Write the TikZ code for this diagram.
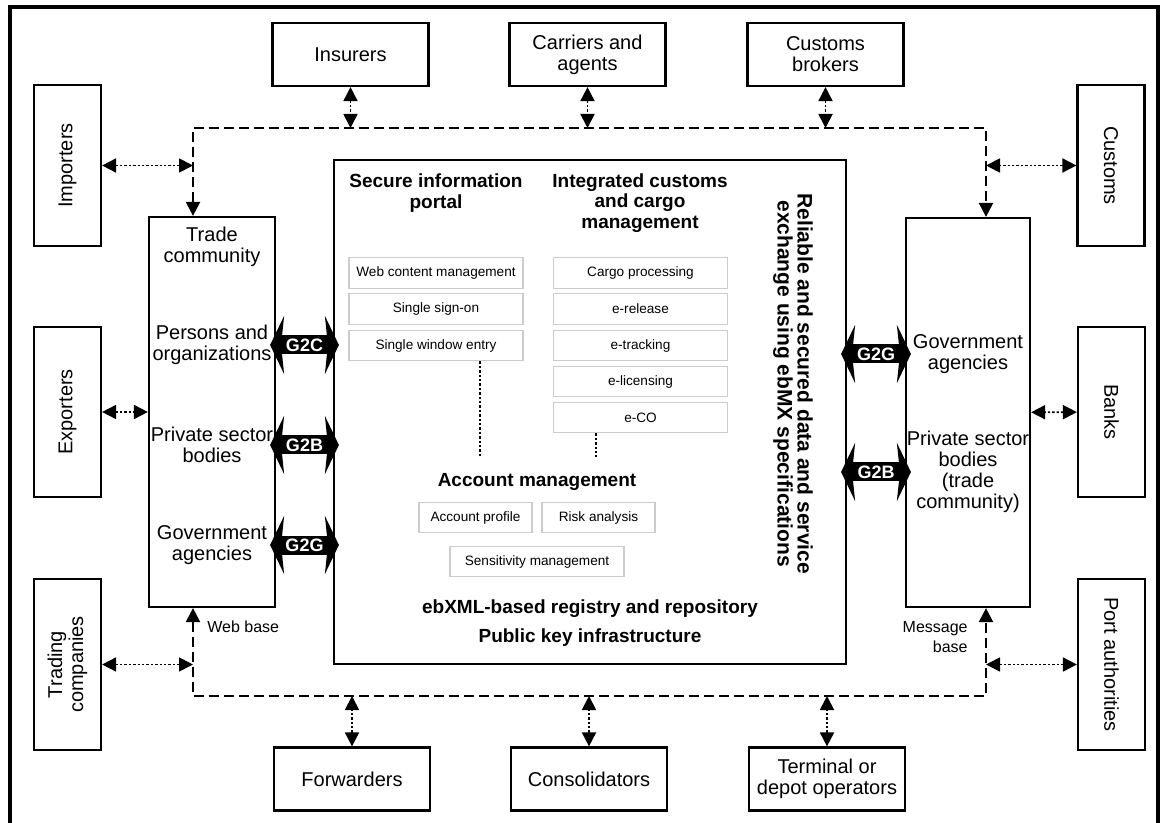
\documentclass[tikz,border=0pt]{standalone}
\usepackage{fontspec}
\setmainfont{Liberation Sans}
\usetikzlibrary{arrows.meta}

\tikzset{
  partner/.style={draw,line width=1.1pt,minimum width=78pt,minimum height=31.5pt,inner sep=0pt,align=center,font=\fontsize{10}{10.5}\selectfont},
  sidebox/.style={draw,line width=1.1pt,minimum width=33.5pt,inner sep=0pt},
  bigbox/.style={draw,line width=1.1pt,inner sep=0pt},
  item/.style={draw=gray!40,line width=0.6pt,minimum width=87pt,minimum height=15.25pt,inner sep=0pt,font=\fontsize{6.8}{7}\selectfont},
  head/.style={align=center,inner sep=0pt,font=\bfseries\fontsize{9.5}{10.3}\selectfont},
  txt/.style={align=center,inner sep=0pt,font=\fontsize{10}{10.5}\selectfont},
  vtxt/.style={align=center,inner sep=0pt,font=\fontsize{10}{10.5}\selectfont},
  small/.style={inner sep=0pt,font=\fontsize{8}{10}\selectfont},
  ftip/.tip={Triangle[length=7pt,width=7pt]},
  bus/.style={line width=1.1pt,dash pattern=on 5pt off 2.5pt},
  link/.style={line width=0.9pt,dash pattern=on 1.2pt off 1pt,ftip-ftip},
  dotline/.style={line width=0.9pt,dash pattern=on 1.2pt off 1pt},
  g2/.style={line width=9.5pt,{Stealth[length=7pt,width=29pt,inset=1.5pt]}-{Stealth[length=7pt,width=29pt,inset=1.5pt]},shorten <=-3pt,shorten >=-3pt},
  g2txt/.style={text=white,inner sep=0pt,font=\bfseries\fontsize{9}{9}\selectfont}
}

\begin{document}
\begin{tikzpicture}[x=0.5pt,y=-0.5pt]
\useasboundingbox (0,0) rectangle (1162,823);
\draw[line width=1.75pt] (10,823) -- (10,7) -- (1158,7) -- (1158,823);

% partners around
\node[partner] (insurers) at (350.5,54.5) {Insurers};
\node[partner] (carriers) at (587.5,54.5) {Carriers and\\agents};
\node[partner] (brokers) at (825.5,54.5) {Customs\\brokers};
\node[partner] (forwarders) at (352,779) {Forwarders};
\node[partner] (consol) at (589,779) {Consolidators};
\node[partner] (terminal) at (827,779) {Terminal or\\depot operators};

\node[sidebox,minimum height=80.5pt,label={[vtxt,rotate=90]center:Importers}] (importers) at (67.5,165.5) {};
\node[sidebox,minimum height=85pt,label={[vtxt,rotate=90]center:Exporters}] (exporters) at (67.5,412) {};
\node[sidebox,minimum height=85.5pt,label={[vtxt,rotate=90]center:Trading\\companies}] (trading) at (67.5,664.5) {};
\node[sidebox,minimum height=80.5pt,label={[vtxt,rotate=-90]center:Customs}] (customs) at (1111,165.5) {};
\node[sidebox,minimum height=85pt,label={[vtxt,rotate=-90]center:Banks}] (banks) at (1111.5,412) {};
\node[sidebox,minimum height=85.5pt,label={[vtxt,rotate=-90]center:Port authorities}] (port) at (1111.5,664.5) {};

% trade community and government side
\node[bigbox,minimum width=63pt,minimum height=195pt] (tc) at (212,412) {};
\node[txt] (tctitle) at (212,247) {Trade\\community};
\node[txt] (persons) at (212,345) {Persons and\\organizations};
\node[txt] (privl) at (212,445) {Private sector\\bodies};
\node[txt] (govl) at (212,545) {Government\\agencies};

\node[bigbox,minimum width=62pt,minimum height=194.5pt] (gov) at (968,412.5) {};
\node[txt] (govr) at (968,354) {Government\\agencies};
\node[txt] (privr) at (968,472) {Private sector\\bodies\\(trade\\community)};

% central platform
\node[bigbox,minimum width=256pt,minimum height=252pt] (hub) at (590,412) {};
\node[head] (portal) at (436,193) {Secure information\\portal};
\node[head] (cargo) at (640,203) {Integrated customs\\and cargo\\management};
\node[item] (webcm) at (436,273) {Web content management};
\node[item] (sso) at (436,309) {Single sign-on};
\node[item] (swe) at (436,345.5) {Single window entry};
\node[item] (cproc) at (640.5,273) {Cargo processing};
\node[item] (erel) at (640.5,309) {e-release};
\node[item] (etrack) at (640.5,345.5) {e-tracking};
\node[item] (elic) at (640.5,381.5) {e-licensing};
\node[item] (eco) at (640.5,417.5) {e-CO};
\coordinate (dotL) at (480,457);
\coordinate (dotR) at (596,457);
\draw[dotline] (swe.south -| dotL) -- (dotL);
\draw[dotline] (eco.south -| dotR) -- (dotR);
\node[head] (acct) at (537,482) {Account management};
\node[item,minimum width=56.5pt] (profile) at (475.5,517.5) {Account profile};
\node[item,minimum width=56.5pt] (risk) at (598.5,517.5) {Risk analysis};
\node[item] (sens) at (537,561.5) {Sensitivity management};
\node[head] (ebxml) at (590,609) {ebXML-based registry and repository};
\node[head] (pki) at (590,638) {Public key infrastructure};
\node[head,font=\bfseries\fontsize{10.5}{10}\selectfont,rotate=-90,anchor=west] (reliable) at (793,193) {Reliable and secured data and service\\exchange using ebMX specifications};

\node[small,anchor=west] (webbase) at (207,627) {Web base};
\node[small,align=right,anchor=east] (msgbase) at (968,637) {Message\\base};

% dashed bus
\coordinate (tl) at (193,128);
\coordinate (tr) at (986,128);
\coordinate (bl) at (193,696);
\coordinate (br) at (986,696);
\draw[bus,ftip-ftip] (tl |- tc.north) -- (tl) -- (tr) -- (tr |- gov.north);
\draw[bus,ftip-ftip] (bl |- tc.south) -- (bl) -- (br) -- (br |- gov.south);

\draw[link] (insurers) -- (insurers |- tl);
\draw[link] (carriers) -- (carriers |- tl);
\draw[link] (brokers) -- (brokers |- tr);
\draw[link] (forwarders) -- (forwarders |- bl);
\draw[link] (consol) -- (consol |- bl);
\draw[link] (terminal) -- (terminal |- br);
\draw[link] (importers) -- (importers -| tl);
\draw[link] (exporters) -- (tc);
\draw[link] (trading) -- (trading -| bl);
\draw[link] (customs) -- (customs -| tr);
\draw[link] (banks) -- (gov);
\draw[link] (port) -- (port -| br);

% G2x exchanges
\draw[g2] (tc.east |- persons) -- (hub.west |- persons) node[g2txt,midway] {G2C};
\draw[g2] (tc.east |- privl) -- (hub.west |- privl) node[g2txt,midway] {G2B};
\draw[g2] (tc.east |- govl) -- (hub.west |- govl) node[g2txt,midway] {G2G};
\draw[g2] (hub.east |- govr) -- (gov.west |- govr) node[g2txt,midway] {G2G};
\draw[g2] (hub.east |- privr) -- (gov.west |- privr) node[g2txt,midway] {G2B};
\end{tikzpicture}
\end{document}
